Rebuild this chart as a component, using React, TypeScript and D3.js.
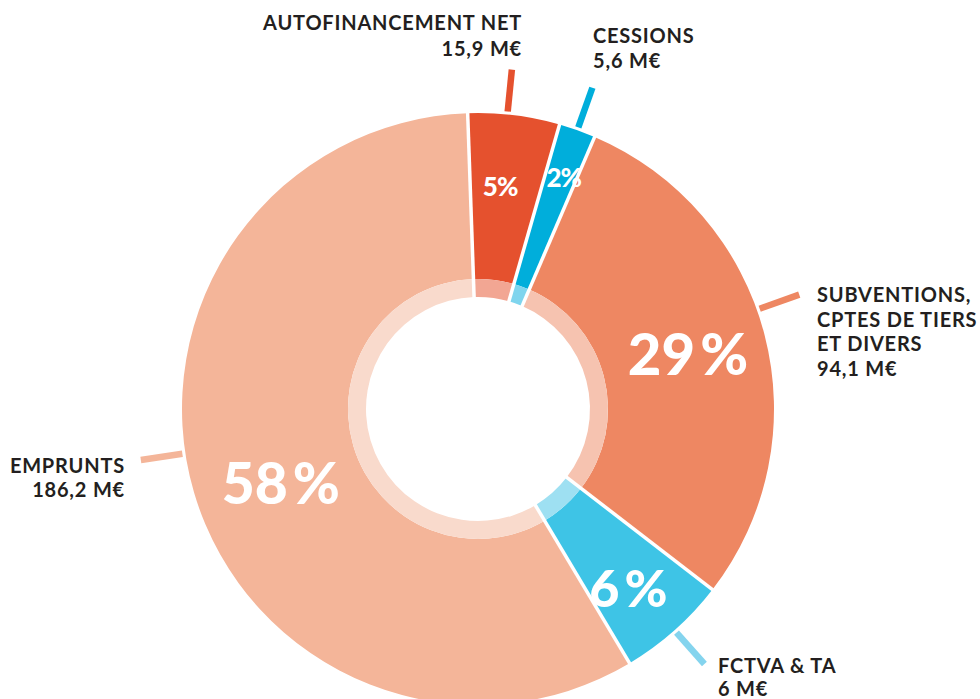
import React from "react";
import * as d3 from "d3";

const categories = ["AUTOFINANCEMENT NET", "CESSIONS", "SUBVENTIONS, CPTES DE TIERS ET DIVERS", "FCTVA & TA", "EMPRUNTS"];
const labelLines = [["AUTOFINANCEMENT NET"], ["CESSIONS"], ["SUBVENTIONS,", "CPTES DE TIERS", "ET DIVERS"], ["FCTVA & TA"], ["EMPRUNTS"]];
const amounts = ["15,9 M€", "5,6 M€", "94,1 M€", "6 M€", "186,2 M€"];
const percents = [5, 2, 29, 6, 58];
const percentNumbers = ["5", "2", "29", "6", "58"];

const colors = ["#E5512E", "#00AEDB", "#EE8762", "#3EC4E6", "#F4B599"];
const innerColors = ["#F2A693", "#7FD5EE", "#F6C3B0", "#9EE0F2", "#F9DACC"];
const tickColors = ["#E5512E", "#00AEDB", "#EE8762", "#84D4EE", "#F4B599"];

// layout / style config
const W = 980, H = 699;
const cx = 478, cy = 409;
const rOuter = 296, rMid = 130, rInner = 112;
const pctRadius = [223, 247, 217, 234, 211];
const pctAngleOffset = [-1.3, 0.7, 0, 1.6, -4.4];
const pctSize = [26, 26, 58, 52, 57];
const pctGap = [0, 0, 5, 5, 5];
const tickAngleOffset = [-1.3, 0, -5, 0, 7.8];
const labelPos: { x: number; y: number; anchor: "start" | "end" }[] = [
  { x: 522, y: 30, anchor: "end" },
  { x: 593, y: 43, anchor: "start" },
  { x: 817, y: 302, anchor: "start" },
  { x: 718, y: 673, anchor: "start" },
  { x: 125, y: 473, anchor: "end" },
];
const lineHeights = [26, 25, 24.7, 23, 24];

export default function App() {
  const deg = Math.PI / 180;
  const pie = d3
    .pie<number>()
    .sort(null)
    .value((d) => d)
    .startAngle(-2 * deg)
    .endAngle(358 * deg);
  const arcs = pie(percents);
  const outerArc = d3.arc<d3.PieArcDatum<number>>().innerRadius(rMid).outerRadius(rOuter);
  const innerArc = d3.arc<d3.PieArcDatum<number>>().innerRadius(rInner).outerRadius(rMid);
  const font = "Lato, 'Open Sans', sans-serif";

  return (
    <div style={{ position: "fixed", left: 0, top: 0 }}>
      <svg width={W} height={H} style={{ display: "block", background: "#fff" }}>
        <g transform={`translate(${cx},${cy})`}>
          {arcs.map((a, i) => (
            <g key={"s" + i}>
              <path d={outerArc(a) || ""} fill={colors[i]} />
              <path d={innerArc(a) || ""} fill={innerColors[i]} />
            </g>
          ))}
          {arcs.map((a, i) => {
            const r0 = rInner - 2, r1 = rOuter + 2;
            const ang = a.startAngle;
            return (
              <line
                key={"sep" + i}
                x1={Math.sin(ang) * r0}
                y1={-Math.cos(ang) * r0}
                x2={Math.sin(ang) * r1}
                y2={-Math.cos(ang) * r1}
                stroke="#fff"
                strokeWidth={3.5}
              />
            );
          })}
          {arcs.map((a, i) => {
            const mid = (a.startAngle + a.endAngle) / 2 + tickAngleOffset[i] * deg;
            const t0 = 299, t1 = 341;
            return (
              <line
                key={"t" + i}
                x1={Math.sin(mid) * t0}
                y1={-Math.cos(mid) * t0}
                x2={Math.sin(mid) * t1}
                y2={-Math.cos(mid) * t1}
                stroke={tickColors[i]}
                strokeWidth={6.5}
              />
            );
          })}
          {arcs.map((a, i) => {
            const mid = (a.startAngle + a.endAngle) / 2 + pctAngleOffset[i] * deg;
            const r = pctRadius[i];
            return (
              <text
                key={"p" + i}
                x={Math.sin(mid) * r}
                y={-Math.cos(mid) * r}
                dy="0.36em"
                textAnchor="middle"
                fill="#fff"
                fontFamily={font}
                fontWeight={900}
                fontSize={pctSize[i]}
                letterSpacing={i < 2 ? -1 : 0}
              >
                {percentNumbers[i]}
                <tspan dx={pctGap[i]}>%</tspan>
              </text>
            );
          })}
        </g>
        {categories.map((c, i) => {
          const p = labelPos[i];
          const lines = [...labelLines[i], amounts[i]];
          return (
            <text
              key={"l" + i}
              x={p.x}
              y={p.y}
              textAnchor={p.anchor}
              fill="#231F20"
              fontFamily={font}
              fontWeight={700}
              fontSize={20}
              letterSpacing={0.8}
            >
              {lines.map((ln, j) => (
                <tspan key={j} x={p.x} y={p.y + j * lineHeights[i]}>
                  {ln}
                </tspan>
              ))}
            </text>
          );
        })}
      </svg>
    </div>
  );
}
